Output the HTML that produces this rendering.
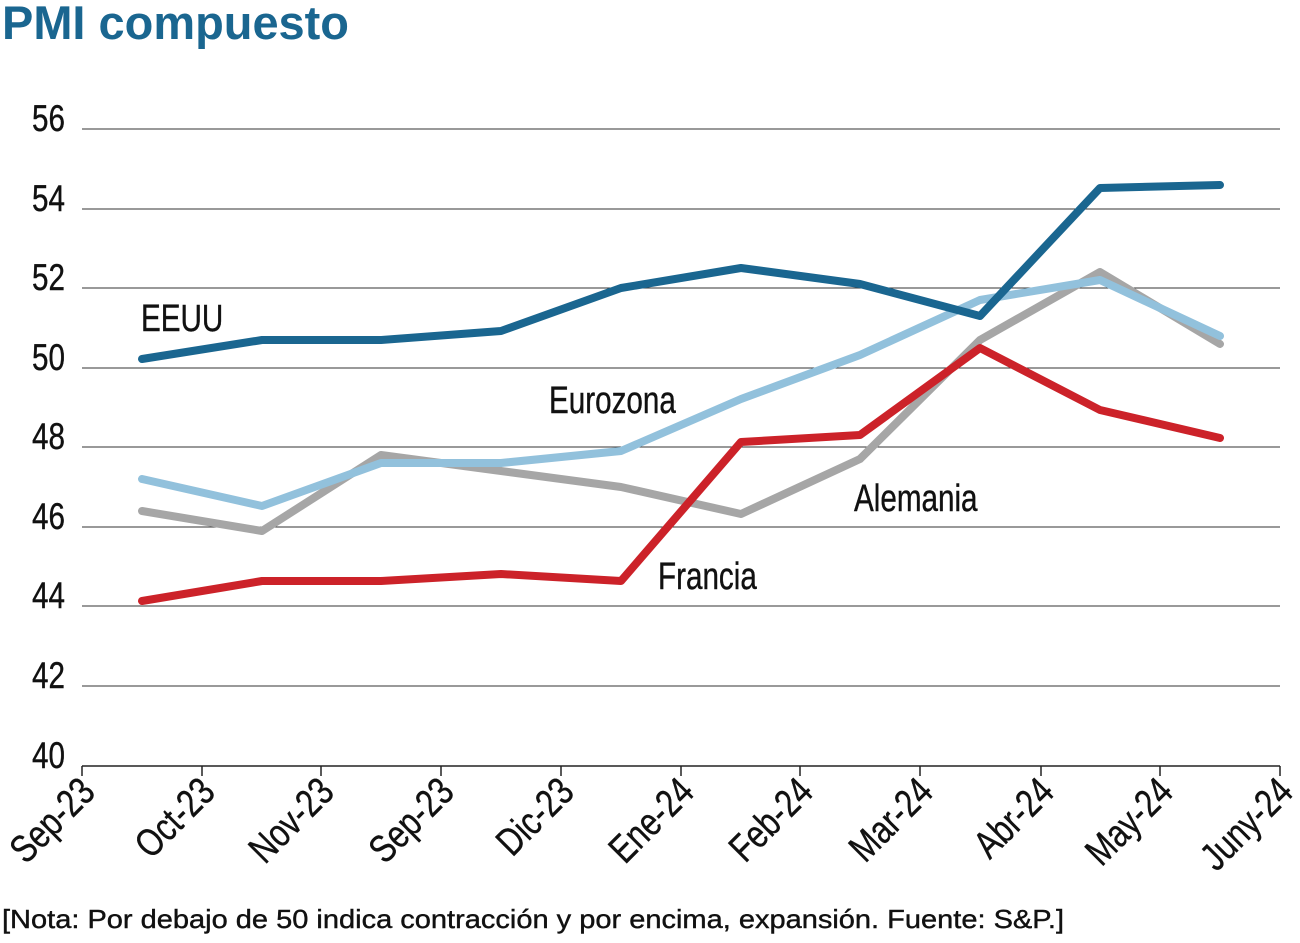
<!DOCTYPE html>
<html><head><meta charset="utf-8"><style>
body{margin:0;background:#fff;width:1300px;height:938px;overflow:hidden}
</style></head><body>
<svg width="1300" height="938" xmlns="http://www.w3.org/2000/svg" font-family="Liberation Sans, sans-serif">
<text x="2" y="39" font-size="47" font-weight="bold" fill="#1a6690" textLength="347" lengthAdjust="spacingAndGlyphs">PMI compuesto</text>
<g stroke="#333" stroke-width="1">
<line x1="82" x2="1280" y1="129" y2="129"/><line x1="82" x2="1280" y1="209" y2="209"/>
<line x1="82" x2="1280" y1="288" y2="288"/><line x1="82" x2="1280" y1="368" y2="368"/>
<line x1="82" x2="1280" y1="447" y2="447"/><line x1="82" x2="1280" y1="527" y2="527"/>
<line x1="82" x2="1280" y1="606" y2="606"/><line x1="82" x2="1280" y1="686" y2="686"/>
<line x1="82" x2="1280" y1="766" y2="766" stroke="#222" stroke-width="1.5"/>
</g>
<g stroke="#222" stroke-width="1.5">
<line x1="82" x2="82" y1="766" y2="776"/><line x1="202" x2="202" y1="766" y2="776"/><line x1="321" x2="321" y1="766" y2="776"/><line x1="441" x2="441" y1="766" y2="776"/><line x1="561" x2="561" y1="766" y2="776"/><line x1="681" x2="681" y1="766" y2="776"/><line x1="800" x2="800" y1="766" y2="776"/><line x1="920" x2="920" y1="766" y2="776"/><line x1="1041" x2="1041" y1="766" y2="776"/><line x1="1160" x2="1160" y1="766" y2="776"/><line x1="1280" x2="1280" y1="766" y2="776"/>
</g>
<g font-size="37" fill="#111" stroke="#111" stroke-width="0.4">
<text transform="translate(32,131) scale(0.8,1)">56</text>
<text transform="translate(32,211) scale(0.8,1)">54</text>
<text transform="translate(32,290) scale(0.8,1)">52</text>
<text transform="translate(32,370) scale(0.8,1)">50</text>
<text transform="translate(32,449) scale(0.8,1)">48</text>
<text transform="translate(32,529) scale(0.8,1)">46</text>
<text transform="translate(32,608) scale(0.8,1)">44</text>
<text transform="translate(32,688) scale(0.8,1)">42</text>
<text transform="translate(32,768) scale(0.8,1)">40</text>
</g>
<g font-size="39" fill="#111" stroke="#111" stroke-width="0.4" text-anchor="end">
<text transform="translate(97,794) rotate(-45) scale(0.8,1)">Sep-23</text>
<text transform="translate(217,794) rotate(-45) scale(0.8,1)">Oct-23</text>
<text transform="translate(336,794) rotate(-45) scale(0.8,1)">Nov-23</text>
<text transform="translate(456,794) rotate(-45) scale(0.8,1)">Sep-23</text>
<text transform="translate(576,794) rotate(-45) scale(0.8,1)">Dic-23</text>
<text transform="translate(696,794) rotate(-45) scale(0.8,1)">Ene-24</text>
<text transform="translate(815,794) rotate(-45) scale(0.8,1)">Feb-24</text>
<text transform="translate(935,794) rotate(-45) scale(0.8,1)">Mar-24</text>
<text transform="translate(1056,794) rotate(-45) scale(0.8,1)">Abr-24</text>
<text transform="translate(1175,794) rotate(-45) scale(0.8,1)">May-24</text>
<text transform="translate(1295,794) rotate(-45) scale(0.8,1)">Juny-24</text>
</g>
<g fill="none" stroke-width="8" stroke-linejoin="round" stroke-linecap="round">
<polyline stroke="#a6a6a6" points="142,511 262,531 381,455 501,471 621,487 741,514 860,459 980,340 1100,272 1220,344"/>
<polyline stroke="#92c1dc" points="142,479 262,506 381,463 501,463 621,451 741,399 860,355 980,300 1100,280 1220,336"/>
<polyline stroke="#cc2229" points="142,601 262,581 381,581 501,574 621,581 741,442 860,435 980,348 1100,410 1220,438"/>
<polyline stroke="#1a6690" points="142,359 262,340 381,340 501,331 621,288 741,268 860,284 980,316 1100,188 1220,185"/>
</g>
<g font-size="38" fill="#111" stroke="#111" stroke-width="0.4">
<text transform="translate(141,331) scale(0.78,1)">EEUU</text>
<text transform="translate(549,413) scale(0.78,1)">Eurozona</text>
<text transform="translate(854,511) scale(0.78,1)">Alemania</text>
<text transform="translate(658,589) scale(0.78,1)">Francia</text>
</g>
<text x="2" y="928" font-size="26" fill="#111" stroke="#111" stroke-width="0.4" textLength="1062" lengthAdjust="spacingAndGlyphs">[Nota: Por debajo de 50 indica contracción y por encima, expansión. Fuente: S&amp;P.]</text>
</svg>
</body></html>
